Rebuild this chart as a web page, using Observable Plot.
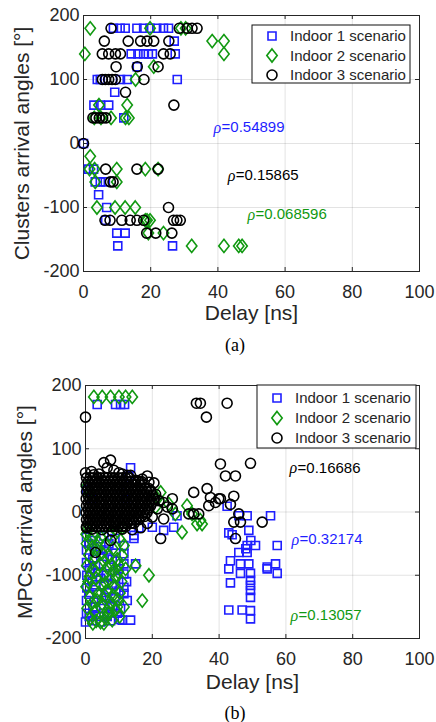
<!DOCTYPE html>
<html><head><meta charset="utf-8">
<script src="https://cdn.jsdelivr.net/npm/d3@7"></script>
<script src="https://cdn.jsdelivr.net/npm/@observablehq/plot@0.6"></script>
<style>
html,body{margin:0;padding:0;background:#fff;}
#wrap{position:relative;width:436px;height:722px;overflow:hidden;background:#fff;}
.panel{position:absolute;left:0;}
.cap{position:absolute;left:0;width:470px;text-align:center;font-family:"Liberation Serif","Times New Roman",serif;font-size:18px;color:#000;line-height:18px;}
</style></head><body><div id="wrap"></div>
<script>
// ---------- data ----------
const scenarios = ["Indoor 1 scenario", "Indoor 2 scenario", "Indoor 3 scenario"];
const colors = ["#1f1fff", "#119911", "#000000"];
const xTicks = [0, 20, 40, 60, 80, 100];
const yTicks = [-200, -100, 0, 100, 200];
const xLabel = "Delay [ns]";
const yLabelA = "Clusters arrival angles [°]";
const yLabelB = "MPCs arrival angles [°]";
const rhoA = ["0.54899", "0.068596", "0.15865"];   // Indoor 1, 2, 3
const rhoB = ["0.32174", "0.13057", "0.16686"];

// (a) clusters: [delay ns, angle deg]
const clusters1 = [[8.9,180],[10.9,180],[12.4,180],[15.9,180],[17.9,180],[19.8,180],[21.8,180],[23.8,180],[25.3,180],
 [27,160],[14.2,140],[16.2,140],[17.9,140],[19.3,140],[20.5,140],[27.3,140],[16,120],
 [4.1,100],[5,100],[11,100],[13,100],[27.9,100],[9.3,80],[3.1,60],[5,60],[7.5,60],[12,40],[0,0],
 [1.5,-40],[3,-40],[3.5,-60],[5,-60],[6.5,-60],[4.5,-80],[6.9,-100],[6.6,-120],
 [9.9,-140],[12.4,-140],[10.2,-160],[26.5,-160]];
const clusters2 = [[2,180],[19.8,180],[29,180],[30.4,180],[38.3,160],[41.8,160],[0.4,140],[41.8,140],
 [20.9,120],[15.5,100],[4.6,60],[13,60],[3.2,40],[5.2,40],[8.2,40],[12.5,40],[13.5,40],[2,-20],
 [1.8,-40],[3.3,-40],[9.9,-40],[18.4,-40],[22.2,-40],[3.5,-60],[9.9,-60],
 [4,-100],[9.4,-100],[12.4,-100],[15.4,-100],[18.4,-120],[18.9,-120],[19.8,-120],
 [19.3,-140],[23.8,-140],[32.2,-160],[41.8,-160],[46.2,-160],[47.2,-160]];
const clusters3 = [[8.2,180],[28.5,180],[30.9,180],[32.3,180],[33.8,180],
 [6.2,160],[13.3,160],[17,160],[18.9,160],[20.9,160],[25.4,160],
 [5.6,140],[7.5,140],[9.5,140],[11,140],[23.8,140],[25.8,140],[9.7,120],[16,120],[22.2,120],
 [5.6,100],[6.5,100],[7.5,100],[8.5,100],[9.5,100],[18,100],[12.5,80],[26.9,60],
 [2.8,40],[3.7,40],[4.7,40],[5.7,40],[6.7,40],[0,0],[6.6,-40],[15.9,-40],[22.2,-40],[8,-60],[8.8,-60],
 [25.3,-100],[6.4,-120],[7.9,-120],[11.4,-120],[13.9,-120],[15.9,-120],[17.9,-120],[26.8,-120],[27.8,-120],[28.8,-120],
 [18.8,-140],[21.5,-140],[26.3,-140]];

// (b) MPCs: [delay ns, angle deg]
const mpcs1 = [[3.5,170],[9,170],[10.5,170],[11.7,170],
 [0.3,35],[2,20],[13.5,70],[13,56],[10,40],[12,20],[14.5,-37],[16,-25],[20,-24],[23.4,-29],[27.4,-6],[26.4,-24],
 [0.3,-40],[0.3,-60],[0.3,-80],[0.4,-100],[0.4,-120],[0.3,-140],[0.3,-160],[0,-174],
 [2,-45],[2.2,-75],[2,-110],[2.2,-150],[2,-172],[3.5,-55],[3.8,-95],[3.5,-130],[4.5,-174],[4,-165],
 [5.5,-38],[5.2,-70],[5.5,-115],[5.5,-160],[7,-50],[7.2,-85],[7,-125],[7.2,-145],[7.5,-172],
 [8.8,-42],[9,-65],[9,-105],[8.8,-135],[9.5,-160],[10.5,-153],[11.5,-53],[11.5,-66],[11.5,-82],
 [11.5,-98],[11.5,-119],[11.5,-129],[11,-171],[13.5,-171],[14.5,-42],[15,-82],
 [1,-50],[1.2,-90],[1,-130],[1.1,-165],[3,-85],[3,-115],[3,-150],[4.5,-60],[4.5,-105],[4.8,-140],
 [6.2,-60],[6.3,-100],[6.2,-135],[6.5,-165],[8,-75],[8,-115],[8.2,-150],[10,-90],[10,-125],[10.3,-170],[12.5,-140],[12.3,-110],
 [42.4,9],[45.9,-6],[48.4,-6],[55.4,-6],[42.9,-33],[48.9,-29],[43.9,-36],[48.4,-53],[50.9,-53],[57.4,-53],
 [45.9,-64],[48.4,-64],[43.4,-77],[46.4,-82],[48.9,-82],[56.9,-82],[54.4,-87],[42.9,-90],[46.4,-97],
 [49.4,-97],[57.4,-97],[54.4,-90],[49.4,-108],[49.4,-116],[49.4,-124],[49.4,-135],[43.4,-112],
 [42.9,-155],[46.9,-155],[49.4,-156],[49.4,-169],[48,-58],[49.5,-45]];
const mpcs2 = [[2.5,182],[5,182],[7.5,182],[10,182],[12,182],[14,182],
 [22.5,31],[24.9,13],[26.9,-3],[28.9,-32],[30.4,10],[31.9,-3],[33.4,-19],[34.4,-13],[21.5,21],[21,8],[34.9,-19],
 [0.3,40],[1,30],[0.2,-35],[2.5,-38],
 [0.5,-28],[4.5,-40],[7,-36],[9.5,-30],[11,-25],[0.3,-50],[2,-55],[3.8,-48],[6,-52],[8.2,-58],[10.5,-45],[11.5,-53],
 [1,-68],[3,-72],[5,-65],[7.2,-70],[9.5,-75],[11,-69],[0.4,-85],[2.2,-90],[4.3,-82],[6.5,-88],[8.5,-92],[10,-84],[15,-85],
 [1.2,-102],[3.2,-105],[5.5,-98],[7.5,-108],[9.2,-103],[19,-100],[0.2,-118],[2.5,-122],[4.6,-115],[6.6,-125],[8.4,-118],[10.3,-128],
 [1.3,-135],[3.5,-140],[5.8,-132],[7.8,-145],[9.6,-138],[17,-140],[0.5,-152],[2.6,-158],[4.5,-150],[6.8,-160],[8.9,-155],
 [1.5,-168],[3.2,-172],[4.5,-174],[6,-168],[8,-171],[10.2,-165],
 [1.8,-45],[3.5,-60],[5.6,-78],[7.8,-83],[9.8,-95],[2.8,-95],[0.8,-110],[4,-128],[6,-112],[8.2,-132],[10.8,-110],
 [1.9,-145],[5,-145],[7,-152],[9.5,-150],[2.2,-176],[5.5,-176],[7.2,-160],[11.5,-150],[12,-90]];
const mpcs3 = [[0,150],[33.2,172],[34.4,172],[36.2,150],[42.4,172],
 [40.4,76],[49.4,77],[41.9,57],[44.9,57],[36.4,37],[32.4,31],[37.4,23],[40.4,21],[44.4,25],[43.4,12],[36.9,10],[38.9,15],[39.9,21],
 [45.9,-3],[44.4,-16],[46.4,-16],[52.9,-16],[44.9,-42],[30.9,-3],[32.4,-3],[33.9,-3],[23.4,15],[24.5,8],[26,21],[22.5,-42],[23.4,-11],[26,5],
 [3,-64],[7.5,-45],
 [0,62],[1.8,64],[4,60],[5.5,78],[7.5,82],[6.5,70],[8.5,66],[10,62],[12.5,58],[13.5,58],[18.5,57],[15,50],[19,47],[20.5,46],
 [19.5,34],[21,28],[22,18],[21.5,5],[20,-8],[18.5,-18],[16.5,-25],[14,-28],[11,-27],[8,-30],[5,-28],[2,-27],[0.3,-25],[2.5,59],[11,60],[17,52]];
// dense core of Indoor 3 MPCs, read row by row: [angle, delays...]
const mpcs3Core = [
 [54, 0.3,1.4,2.4,3.6,4.5,5.7,6.6,7.8,8.7,9.9,11.0,12.0,13.1],
 [48, 0.8,1.9,2.9,4.0,5.1,6.1,7.2,8.2,9.4,10.4,11.5,12.6,13.6,14.7,15.8,16.8],
 [43, 0.2,1.3,2.5,3.4,4.6,5.6,6.7,7.7,8.9,9.8,11.0,12.0,13.1,14.2,15.2,16.3,17.4],
 [37, 0.8,1.8,3.0,3.9,5.1,6.2,7.2,8.3,9.3,10.5,11.4,12.6,13.6,14.7,15.8,16.8,17.9,19.0],
 [32, 0.3,1.3,2.4,3.5,4.5,5.6,6.7,7.8,8.8,9.9,10.9,12.1,13.0,14.2,15.3,16.3,17.4,18.5,19.5],
 [26, 0.8,1.9,2.9,4.0,5.0,6.2,7.2,8.3,9.3,10.4,11.5,12.5,13.7,14.6,15.8,16.9,17.9,19.0,20.1],
 [21, 0.2,1.3,2.4,3.5,4.6,5.6,6.7,7.7,8.8,9.9,11.0,12.0,13.1,14.1,15.2,16.3,17.3,18.4,19.5,20.5],
 [15, 0.8,1.8,2.9,4.0,5.1,6.1,7.2,8.2,9.3,10.4,11.4,12.5,13.6,14.6,15.7,16.8,17.9,18.9,20.0],
 [10, 0.3,1.3,2.4,3.5,4.5,5.6,6.7,7.7,8.8,9.9,10.9,12.0,13.1,14.1,15.2,16.3,17.3,18.4,19.5],
 [4, 0.8,1.8,2.9,4.0,5.0,6.1,7.2,8.2,9.3,10.3,11.4,12.5,13.5,14.6,15.7,16.7,17.8,18.9],
 [-1, 0.2,1.3,2.4,3.4,4.5,5.6,6.6,7.7,8.8,9.8,10.9,12.0,13.0,14.1,15.2,16.2,17.3,18.4],
 [-7, 0.8,1.8,2.9,3.9,5.0,6.1,7.1,8.2,9.3,10.3,11.4,12.4,13.5,14.6,15.6,16.7,17.7],
 [-12, 0.3,1.3,2.4,3.4,4.5,5.6,6.6,7.7,8.7,9.8,10.9,11.9,13.0,14.1,15.1,16.0],
 [-18, 0.8,1.8,2.9,3.9,5.0,6.0,7.1,8.2,9.2,10.3,11.3,12.4,13.5,14.5],
 [-23, 0.3,1.4,2.4,3.5,4.5,5.6,6.6,7.7,8.8,9.8,10.9,12.0]
];
const mpcs3All = mpcs3.concat(mpcs3Core.flatMap(([ang, ...ds]) => ds.map(dl => [dl, ang])));

// correlation notes: [series index, delay, angle] (anchor in data space)
const notesA = [[0, 38.7, 25], [2, 42.9, -50], [1, 48.8, -111]];
const notesB = [[2, 61.1, 70], [0, 61.7, -43.5], [1, 61.4, -163.6]];

// ---------- symbols ----------
const sqSym = {draw(c){const h=4; c.moveTo(-h,-h); c.lineTo(h,-h); c.lineTo(h,h); c.lineTo(-h,h); c.closePath();}};
const diaSym = {draw(c){c.moveTo(0,-6.6); c.lineTo(5.2,0); c.lineTo(0,6.6); c.lineTo(-5.2,0); c.closePath();}};
const cirSym = {draw(c){c.moveTo(5,0); c.arc(0,0,5,0,2*Math.PI); c.closePath();}};
const syms = [sqSym, diaSym, cirSym];

const SANS = "'Liberation Sans', Arial, Helvetica, sans-serif";
const SERIF = "'Liberation Serif', 'Times New Roman', serif";
const AX = "#262626";
const SW = 1.6;

function panel(o) {
  const W = 436;
  const fw = W - o.ml - o.mr, fh = o.h - o.mt - o.mb;
  const marks = [
    Plot.ruleX(xTicks, {x: d => d, stroke: AX, strokeOpacity: 0.13}),
    Plot.ruleY(yTicks, {y: d => d, stroke: AX, strokeOpacity: 0.13}),
    Plot.tickX(xTicks, {x: d => d, stroke: AX, insetTop: fh - 4}),
    Plot.tickX(xTicks, {x: d => d, stroke: AX, insetBottom: fh - 4}),
    Plot.tickY(yTicks, {y: d => d, stroke: AX, insetRight: fw - 4}),
    Plot.tickY(yTicks, {y: d => d, stroke: AX, insetLeft: fw - 4}),
    Plot.frame({stroke: AX, strokeWidth: 1})
  ];
  o.series.forEach((s, i) => marks.push(Plot.dot(s, {x: d => d[0], y: d => d[1], symbol: syms[i], r: 5, stroke: colors[i], strokeWidth: SW, fill: "none"})));
  marks.push(
    Plot.text(o.notes, {x: d => d[1], y: d => d[2], text: () => "ρ", fill: d => colors[d[0]], textAnchor: "start", fontFamily: SERIF, fontStyle: "italic", fontSize: 16}),
    Plot.text(o.notes, {x: d => d[1], y: d => d[2], text: d => "=" + o.rho[d[0]], fill: d => colors[d[0]], textAnchor: "start", dx: 8, fontFamily: SANS, fontSize: 15}),
    Plot.text([xLabel], {text: d => d, frameAnchor: "bottom", textAnchor: "middle", dy: o.xlDy, fontSize: 21, fill: AX, fontFamily: SANS}),
    Plot.text([o.yLabel], {text: d => d, frameAnchor: "left", textAnchor: "middle", rotate: -90, dx: o.ylDx, fontSize: 21, fill: AX, fontFamily: SANS})
  );
  const chart = Plot.plot({
    width: W, height: o.h, marginLeft: o.ml, marginRight: o.mr, marginTop: o.mt, marginBottom: o.mb,
    style: {fontFamily: SANS, fontSize: "18px", color: AX, background: "white", overflow: "visible"},
    color: {type: "identity"},
    x: {domain: [0, 100], ticks: xTicks, tickSize: 0, tickPadding: 14, tickFormat: d => String(d), label: null},
    y: {domain: [-200, 200], ticks: yTicks, tickSize: 0, tickPadding: 4, tickFormat: d => String(d), label: null},
    marks
  });
  // legend box
  const L = o.legend;
  const g = d3.select(chart).append("g").attr("text-anchor", "start");
  g.append("rect").attr("x", L.x).attr("y", L.y).attr("width", L.w).attr("height", L.h)
    .attr("fill", "white").attr("stroke", "#111").attr("stroke-width", 1);
  scenarios.forEach((name, i) => {
    const cy = L.rows[i];
    g.append("path").attr("d", d3.symbol(syms[i])()).attr("transform", `translate(${L.mx},${cy})`)
      .attr("fill", "none").attr("stroke", colors[i]).attr("stroke-width", SW);
    g.append("text").attr("x", L.tx).attr("y", cy).attr("dy", "0.35em").attr("fill", AX)
      .attr("text-anchor", "start").attr("font-family", SANS).attr("font-size", 15).text(name);
  });
  return chart;
}

const wrap = document.getElementById("wrap");
const a = panel({series: [clusters1, clusters2, clusters3], notes: notesA, rho: rhoA, yLabel: yLabelA,
  h: 340, ml: 83, mr: 17, mt: 15, mb: 69, xlDy: 48, ylDx: -61.5,
  legend: {x: 252, y: 25, w: 158, h: 58, mx: 272, tx: 290, rows: [36, 55.5, 75]}});
const divA = document.createElement("div"); divA.className = "panel"; divA.style.top = "0px"; divA.appendChild(a); wrap.appendChild(divA);
const capA = document.createElement("div"); capA.className = "cap"; capA.style.top = "336px"; capA.textContent = "(a)"; wrap.appendChild(capA);

const b = panel({series: [mpcs1, mpcs2, mpcs3All], notes: notesB, rho: rhoB, yLabel: yLabelB,
  h: 345, ml: 85, mr: 17, mt: 25, mb: 67, xlDy: 50, ylDx: -60.5,
  legend: {x: 257, y: 25, w: 159, h: 63, mx: 277, tx: 295, rows: [38, 58, 78]}});
const divB = document.createElement("div"); divB.className = "panel"; divB.style.top = "360px"; divB.appendChild(b); wrap.appendChild(divB);
const capB = document.createElement("div"); capB.className = "cap"; capB.style.top = "704px"; capB.textContent = "(b)"; wrap.appendChild(capB);
</script></body></html>
